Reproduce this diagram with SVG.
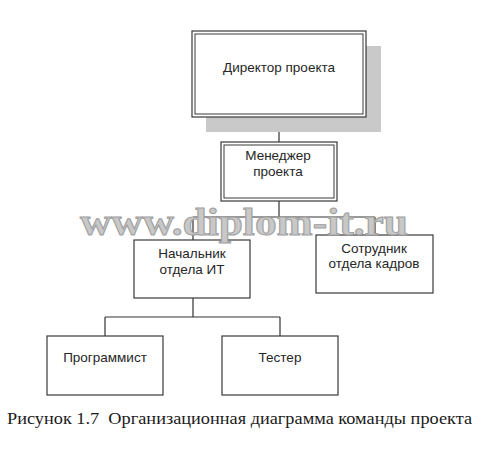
<svg xmlns="http://www.w3.org/2000/svg" width="495" height="460" viewBox="0 0 495 460">
<style>
.box{fill:#fff;stroke:#3a3a3a;stroke-width:1.2}
.inner{fill:none;stroke:#3a3a3a;stroke-width:1}
.lbl{font-family:"Liberation Sans",Arial,sans-serif;font-size:13.5px;fill:#262626;text-anchor:middle}
.conn{fill:none;stroke:#333;stroke-width:1.2}
.cap{font-family:"Liberation Serif","Times New Roman",serif;font-size:16px;fill:#1a1a1a;white-space:pre}
.wm{font-family:"Liberation Serif","Times New Roman",serif;font-weight:bold;font-size:38px;fill:#c8c8c8;stroke:#a0a0a0;stroke-width:1}
</style>
<rect width="495" height="460" fill="#fff"/>
<g id="connectors">
<path class="conn" d="M279,117V142M279,201V217M193,217H375M193,217V240M375,217V235M193,298V317M105,317H280M105,317V336M280,317V336"/>
</g>
<g id="director">
<rect x="206" y="46" width="175" height="86" fill="#c9c9c9"/>
<rect class="box" x="192" y="31" width="174" height="86"/>
<rect class="inner" x="195" y="34" width="168" height="80"/>
<text class="lbl" x="279" y="72">Директор проекта</text>
</g>
<g id="manager">
<rect class="box" x="221" y="142" width="116" height="59"/>
<rect class="inner" x="224" y="145" width="110" height="53"/>
<text class="lbl" x="278" y="160">Менеджер</text>
<text class="lbl" x="278" y="176">проекта</text>
</g>
<g id="head-it">
<rect class="box" x="134" y="240" width="116" height="58"/>
<text class="lbl" x="192" y="258">Начальник</text>
<text class="lbl" x="192" y="274">отдела ИТ</text>
</g>
<g id="hr">
<rect class="box" x="316" y="235" width="117" height="58"/>
<text class="lbl" x="374" y="253">Сотрудник</text>
<text class="lbl" x="374" y="268">отдела кадров</text>
</g>
<g id="programmer">
<rect class="box" x="47" y="336" width="116" height="59"/>
<text class="lbl" x="105" y="362">Программист</text>
</g>
<g id="tester">
<rect class="box" x="222" y="336" width="116" height="59"/>
<text class="lbl" x="280" y="362">Тестер</text>
</g>
<text class="wm" x="80" y="235" textLength="328" lengthAdjust="spacingAndGlyphs">www.diplom-it.ru</text>
<text class="cap" x="7" y="424" textLength="465" lengthAdjust="spacingAndGlyphs">Рисунок 1.7  Организационная диаграмма команды проекта</text>
</svg>
